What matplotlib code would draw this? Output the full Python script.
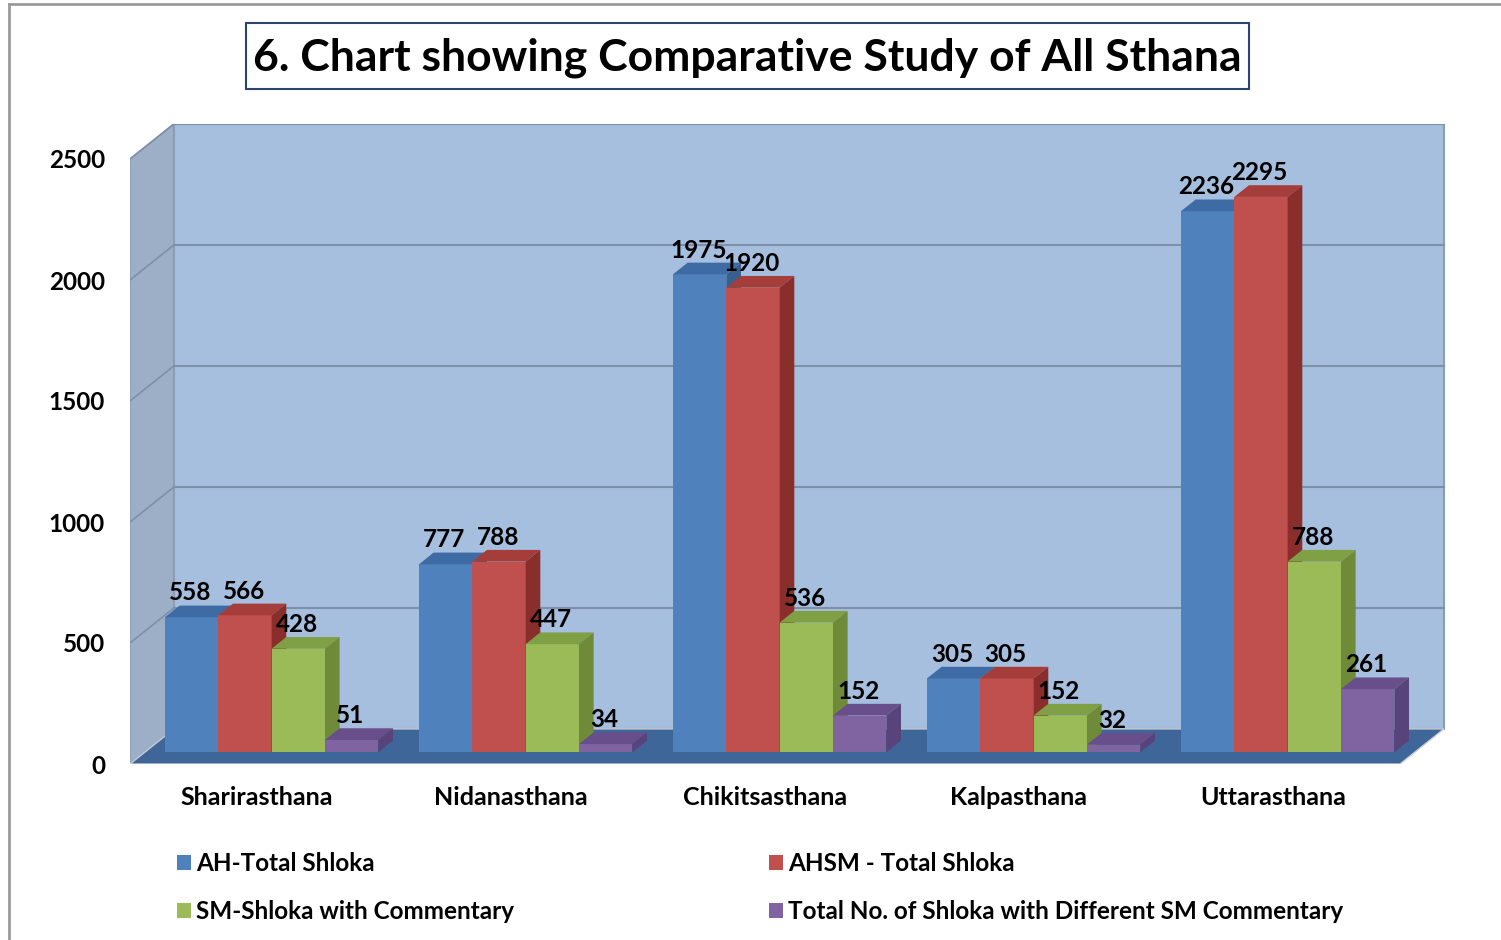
import matplotlib
matplotlib.use("Agg")
import matplotlib.pyplot as plt
from matplotlib.patches import Polygon, Rectangle, Patch
from matplotlib.lines import Line2D

plt.rcParams['font.family'] = ['Lato', 'DejaVu Sans']
plt.rcParams['font.weight'] = 'bold'

# data
sthana = ['Sharirasthana', 'Nidanasthana', 'Chikitsasthana', 'Kalpasthana', 'Uttarasthana']
series = ['AH-Total Shloka', 'AHSM - Total Shloka', 'SM-Shloka with Commentary',
          'Total No. of Shloka with Different SM Commentary']
ah_total = [558, 777, 1975, 305, 2236]
ahsm_total = [566, 788, 1920, 305, 2295]
sm_comm = [428, 447, 536, 152, 788]
diff_sm = [51, 34, 152, 32, 261]
yticks = [0, 500, 1000, 1500, 2000, 2500]

values = [ah_total, ahsm_total, sm_comm, diff_sm]
front = ['#4F81BD', '#C0504D', '#9BBB59', '#8064A2']
top = ['#3E6BA3', '#A53E3B', '#80A046', '#684F8C']
side = ['#395F8E', '#8A2E2C', '#6F8A38', '#58437A']

W, H = 1501, 940
fig = plt.figure(figsize=(W / 100, H / 100), dpi=100)

# axes placed so that x=-0.5 -> px 130, y=0 -> px 764, 2500 -> px 159
xmin, xmax = -0.5, 4.68
ymin, ymax = 0, 2645
ax = fig.add_axes([130 / W, (H - 764) / H, (xmax - xmin) * 254 / W, ymax * 0.242 / H])
ax.set_xlim(xmin, xmax)
ax.set_ylim(ymin, ymax)
for s in ax.spines.values():
    s.set_visible(False)

dx, dy = 0.173, 145.0   # depth of the box in data units
f1 = 1 / 3              # bars start at one third of the depth
bdx, bdy = dx / 3, dy / 3
top_val = 2500
x0, x1 = -0.5, 4.5

# walls and floor
ax.add_patch(Polygon([(x0, 0), (x0, top_val), (x0 + dx, top_val + dy), (x0 + dx, dy)],
                     closed=True, fc='#9CAFC7', ec='#8A9DB5', lw=1, zorder=1))
ax.add_patch(Polygon([(x0 + dx, dy), (x1 + dx, dy), (x1 + dx, top_val + dy), (x0 + dx, top_val + dy)],
                     closed=True, fc='#A7BFDE', ec='#8C9DB3', lw=1.5, zorder=1))
for v in yticks[1:]:
    ax.add_line(Line2D([x0 + dx, x1 + dx], [v + dy, v + dy], color='#7D90AA', lw=1.5, zorder=2))
    ax.add_line(Line2D([x0, x0 + dx], [v, v + dy], color='#7D90AA', lw=1.2, zorder=2))
ax.add_patch(Polygon([(x0, 0), (x1, 0), (x1 + dx, dy), (x0 + dx, dy)],
                     closed=True, fc='#3F6699', ec='#C8CDD4', lw=1, zorder=3))

# bars
w = 0.21
gw = w * 4
for i in range(len(sthana)):
    for j in range(4):
        v = values[j][i]
        bx = i - gw / 2 + j * w + f1 * dx
        by = f1 * dy
        ax.bar(bx, v, width=w, bottom=by, align='edge', color=front[j], zorder=4 + i * 4 + j)
        ax.add_patch(Polygon([(bx, by + v), (bx + w, by + v), (bx + w + bdx, by + v + bdy), (bx + bdx, by + v + bdy)],
                             closed=True, fc=top[j], ec='none', zorder=4 + i * 4 + j))
        ax.add_patch(Polygon([(bx + w, by), (bx + w, by + v), (bx + w + bdx, by + v + bdy), (bx + w + bdx, by + bdy)],
                             closed=True, fc=side[j], ec='none', zorder=4 + i * 4 + j))
        ax.annotate(str(v), (bx + w / 2, by + v), xytext=(-1.0, 17.5), textcoords='offset points',
                    ha='center', va='center', fontsize=17.5, fontweight='bold', zorder=60)

ax.set_xticks(range(len(sthana)))
ax.set_xticklabels(sthana, fontsize=18, fontweight='bold')
ax.set_yticks(yticks)
ax.set_yticklabels([str(t) for t in yticks], fontsize=17.5, fontweight='bold')
ax.tick_params(axis='x', length=0, pad=16)
ax.tick_params(axis='y', length=0, pad=18)

# legend: blue/green in first column, red/purple in second
order = [0, 2, 1, 3]
handles = [Patch(fc=front[k], ec='none', label=series[k]) for k in order]
fig.legend(handles=handles, ncol=2, loc='upper left', bbox_to_anchor=(155 / W, 1 - 830 / H),
           frameon=False, handlelength=0.58, handleheight=0.58,
           handletextpad=0.2, columnspacing=10.5, labelspacing=1.05,
           prop={'weight': 'bold', 'size': 17.5})

# title box
fig.patches.append(Rectangle((246 / W, 1 - 89 / H), (1249 - 246) / W, 66 / H, transform=fig.transFigure,
                             fill=False, ec='#2B4570', lw=1.5))
fig.text(747.5 / W, 1 - 58 / H, '6. Chart showing Comparative Study of All Sthana',
         ha='center', va='center', fontsize=32, fontweight='bold')

# outer frame
fig.add_artist(Line2D([9 / W, 9 / W], [0, 1 - 4 / H], color='#9A9A9A', lw=2, transform=fig.transFigure))
fig.add_artist(Line2D([9 / W, 1], [1 - 4 / H, 1 - 4 / H], color='#9A9A9A', lw=2, transform=fig.transFigure))

fig.savefig('out.png', dpi=100)
